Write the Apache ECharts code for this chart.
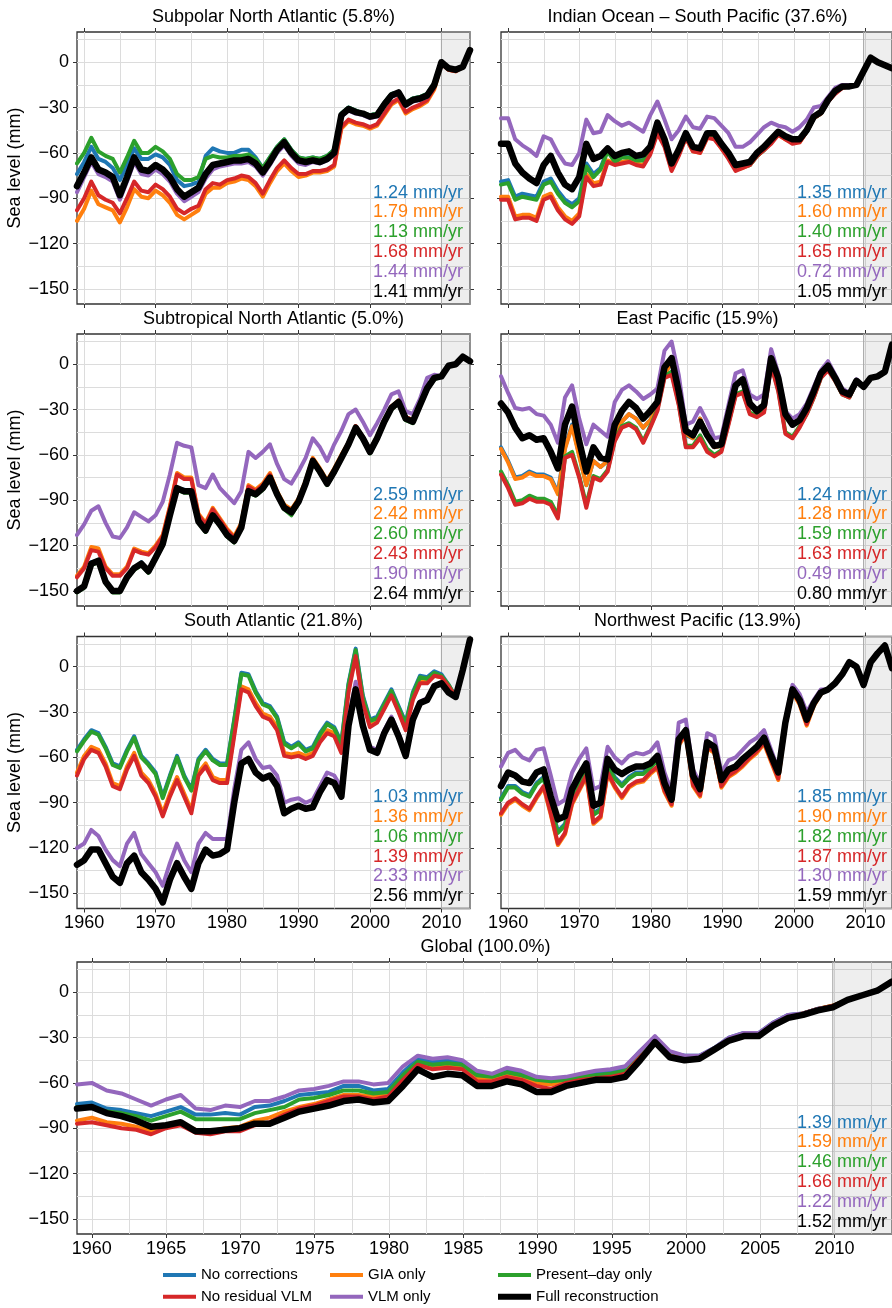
<!DOCTYPE html>
<html>
<head>
<meta charset="utf-8">
<script src="https://cdn.jsdelivr.net/npm/echarts@6/dist/echarts.min.js"></script>
<style>
  html, body { margin: 0; padding: 0; background: #fff; }
  #chart { width: 892px; height: 1308px; }
</style>
</head>
<body>
<div id="chart"></div>
<script>
// yearly samples, 1959 .. 2014
var years = [1959, 1960, 1961, 1962, 1963, 1964, 1965, 1966, 1967, 1968,
             1969, 1970, 1971, 1972, 1973, 1974, 1975, 1976, 1977, 1978,
             1979, 1980, 1981, 1982, 1983, 1984, 1985, 1986, 1987, 1988,
             1989, 1990, 1991, 1992, 1993, 1994, 1995, 1996, 1997, 1998,
             1999, 2000, 2001, 2002, 2003, 2004, 2005, 2006, 2007, 2008,
             2009, 2010, 2011, 2012, 2013, 2014];

var seriesNames = ['No corrections', 'GIA only', 'Present\u2013day only', 'No residual VLM', 'VLM only', 'Full reconstruction'];
var seriesColors = ['#1f77b4', '#ff7f0e', '#2ca02c', '#d62728', '#9467bd', '#000000'];

// Subpolar North Atlantic
var spna_noCorr = [-74,-66,-56,-64,-66,-70,-78,-68,-57,-64, -64,-61,-63,-68,-78,-82,-81,-79,-62,-57, -59,-60,-60,-58,-58,-63,-70,-63,-56,-51, -58,-63,-64,-63,-64,-62,-58,-34,-30,-32, -34,-35,-34,-27,-21,-20,-27,-24,-23,-21, -14,0,-4,-5,-3,8];
var spna_gia = [-105,-97,-85,-94,-96,-98,-106,-96,-84,-89, -90,-85,-88,-93,-101,-104,-101,-98,-87,-83, -83,-80,-79,-77,-78,-82,-89,-80,-72,-67, -72,-76,-75,-73,-73,-72,-69,-44,-39,-41, -42,-44,-42,-35,-28,-25,-34,-31,-29,-26, -18,-1,-5,-6,-3,8];
var spna_present = [-67,-60,-50,-59,-62,-64,-73,-63,-52,-60, -60,-56,-59,-64,-74,-78,-78,-76,-64,-62, -63,-63,-62,-62,-61,-64,-70,-63,-56,-51, -58,-63,-64,-63,-64,-62,-58,-34,-30,-32, -34,-35,-34,-27,-21,-20,-27,-24,-23,-21, -14,0,-4,-5,-3,8];
var spna_noResid = [-98,-90,-79,-88,-91,-93,-100,-90,-79,-85, -86,-81,-84,-89,-97,-100,-97,-95,-84,-80, -81,-78,-77,-75,-76,-80,-87,-78,-70,-65, -70,-74,-74,-72,-72,-71,-68,-43,-38,-40, -41,-43,-41,-34,-27,-24,-33,-30,-28,-25, -17,-1,-5,-6,-3,8];
var spna_vlm = [-86,-76,-66,-74,-76,-79,-91,-79,-66,-74, -75,-71,-74,-79,-87,-92,-89,-86,-77,-71, -69,-68,-67,-67,-66,-69,-75,-68,-60,-55, -62,-67,-68,-66,-67,-65,-61,-36,-32,-34, -35,-37,-36,-29,-23,-21,-29,-26,-25,-23, -15,0,-4,-5,-3,8];
var spna_full = [-82,-73,-63,-71,-73,-76,-88,-76,-63,-71, -72,-68,-71,-76,-84,-89,-86,-83,-74,-68, -67,-66,-65,-65,-64,-67,-73,-66,-58,-53, -60,-65,-66,-65,-66,-64,-60,-35,-31,-33, -34,-36,-35,-28,-22,-20,-28,-25,-24,-22, -15,0,-4,-5,-3,8];
var spna_rates = ['1.24', '1.79', '1.13', '1.68', '1.44', '1.41'];

// Indian Ocean - South Pacific
var iosp_noCorr = [-79,-78,-89,-87,-88,-89,-79,-77,-85,-91, -94,-90,-67,-74,-70,-58,-65,-62,-62,-64, -64,-58,-44,-53,-69,-60,-49,-58,-59,-49, -49,-56,-62,-70,-69,-68,-62,-58,-53,-47, -50,-52,-52,-46,-37,-34,-26,-20,-16,-16, -15,-6,3,0,-2,-4];
var iosp_gia = [-89,-89,-102,-101,-101,-103,-89,-87,-96,-102, -105,-100,-74,-80,-79,-65,-67,-66,-65,-67, -68,-60,-46,-55,-71,-61,-50,-59,-60,-50, -50,-57,-63,-71,-70,-68,-62,-58,-53,-48, -51,-53,-53,-46,-37,-34,-26,-20,-17,-16, -15,-6,3,0,-2,-4];
var iosp_present = [-81,-80,-91,-89,-90,-91,-81,-79,-87,-93, -96,-92,-69,-76,-71,-59,-66,-63,-63,-65, -65,-59,-45,-54,-70,-61,-49,-58,-59,-49, -49,-56,-62,-70,-69,-68,-62,-58,-53,-47, -50,-52,-52,-46,-37,-34,-26,-20,-16,-16, -15,-6,3,0,-2,-4];
var iosp_noResid = [-91,-91,-104,-103,-103,-105,-91,-89,-98,-104, -107,-102,-76,-82,-81,-66,-68,-67,-66,-68, -69,-61,-47,-56,-72,-62,-50,-59,-60,-50, -51,-57,-64,-72,-70,-68,-62,-58,-54,-48, -51,-54,-53,-46,-37,-34,-26,-21,-17,-16, -15,-6,3,0,-2,-4];
var iosp_vlm = [-37,-37,-51,-55,-58,-62,-49,-51,-60,-67, -68,-60,-38,-47,-46,-35,-39,-42,-40,-43, -46,-35,-26,-38,-51,-45,-36,-43,-44,-36, -37,-42,-47,-56,-56,-53,-48,-43,-40,-42, -43,-46,-43,-38,-30,-29,-23,-17,-15,-15, -15,-6,3,0,-2,-4];
var iosp_full = [-54,-54,-67,-73,-77,-80,-68,-62,-73,-81, -84,-76,-54,-64,-62,-57,-62,-60,-59,-62, -61,-56,-40,-51,-67,-58,-47,-56,-57,-47, -47,-54,-60,-68,-67,-66,-60,-56,-51,-46, -49,-51,-51,-45,-36,-33,-25,-19,-16,-16, -15,-6,3,0,-2,-4];
var iosp_rates = ['1.35', '1.60', '1.40', '1.65', '0.72', '1.05'];

// Subtropical North Atlantic
var stna_noCorr = [-150,-147,-131,-130,-143,-150,-150,-141,-135,-131, -137,-128,-119,-100,-82,-83,-84,-104,-110,-100, -106,-113,-117,-108,-84,-86,-82,-75,-86,-95, -98,-91,-79,-64,-71,-79,-71,-62,-53,-42, -49,-58,-49,-38,-29,-25,-36,-38,-27,-16, -9,-8,-1,0,5,2];
var stna_gia = [-140,-134,-121,-122,-134,-139,-139,-134,-122,-124, -125,-120,-113,-94,-72,-75,-75,-99,-105,-95, -102,-109,-114,-105,-80,-83,-79,-72,-84,-93, -96,-89,-77,-62,-69,-77,-69,-60,-52,-41, -48,-57,-48,-37,-28,-24,-35,-37,-26,-15, -9,-8,-1,0,5,2];
var stna_present = [-151,-148,-133,-131,-145,-151,-151,-142,-136,-133, -138,-129,-120,-101,-83,-85,-85,-105,-111,-101, -107,-114,-118,-109,-85,-87,-83,-76,-87,-96, -100,-92,-80,-65,-72,-80,-72,-63,-54,-43, -50,-59,-50,-39,-30,-26,-37,-39,-28,-17, -10,-8,-1,0,5,2];
var stna_noResid = [-141,-135,-123,-124,-135,-140,-140,-135,-123,-125, -126,-121,-114,-95,-73,-76,-76,-100,-106,-96, -103,-110,-115,-106,-81,-84,-80,-73,-85,-94, -97,-90,-78,-63,-70,-78,-70,-61,-52,-41, -48,-57,-48,-37,-28,-25,-35,-37,-26,-15, -9,-8,-1,0,5,2];
var stna_vlm = [-113,-106,-97,-94,-105,-114,-115,-108,-98,-101, -104,-100,-91,-73,-52,-54,-55,-80,-82,-73, -82,-87,-92,-84,-58,-62,-58,-53,-66,-76, -79,-71,-62,-49,-55,-64,-53,-44,-33,-30, -38,-47,-39,-30,-20,-18,-31,-33,-23,-9, -7,-8,-1,0,5,2];
var stna_full = [-150,-147,-132,-130,-144,-150,-150,-141,-135,-132, -137,-128,-119,-100,-82,-84,-84,-104,-110,-100, -106,-113,-117,-108,-84,-86,-82,-75,-86,-95, -98,-91,-79,-64,-71,-79,-71,-62,-53,-42, -49,-58,-49,-38,-29,-25,-36,-38,-27,-16, -9,-8,-1,0,5,2];
var stna_rates = ['2.59', '2.42', '2.60', '2.43', '1.90', '2.64'];

// East Pacific
var ep_noCorr = [-55,-64,-75,-74,-71,-73,-73,-75,-85,-55, -40,-60,-80,-64,-68,-64,-47,-38,-33,-36, -42,-37,-29,-7,2,-20,-47,-49,-36,-47, -55,-54,-34,-14,-10,-26,-31,-27,4,-9, -33,-40,-37,-29,-18,-6,-1,-9,-18,-20, -11,-15,-9,-8,-5,13];
var ep_gia = [-56,-65,-76,-75,-72,-74,-74,-76,-86,-56, -41,-61,-80,-64,-68,-64,-47,-38,-33,-36, -42,-37,-29,-7,2,-20,-46,-49,-36,-47, -55,-54,-34,-14,-10,-26,-31,-27,4,-9, -33,-40,-37,-29,-18,-6,-1,-9,-18,-20, -11,-15,-9,-8,-5,13];
var ep_present = [-71,-80,-91,-90,-87,-89,-89,-91,-100,-61, -58,-74,-93,-74,-76,-70,-50,-41,-39,-42, -51,-41,-30,-8,-5,-26,-54,-54,-47,-56, -60,-57,-39,-20,-18,-32,-34,-31,0,-17, -45,-48,-41,-33,-22,-9,-3,-11,-20,-22, -12,-15,-9,-8,-5,13];
var ep_noResid = [-73,-82,-93,-92,-89,-91,-91,-93,-102,-62, -60,-75,-95,-75,-77,-71,-51,-42,-40,-43, -52,-42,-31,-9,-7,-27,-55,-55,-49,-58, -61,-58,-40,-21,-19,-33,-35,-32,-1,-18, -46,-49,-42,-33,-22,-9,-4,-11,-20,-22, -12,-15,-9,-8,-5,13];
var ep_vlm = [-8,-19,-29,-30,-29,-33,-34,-40,-52,-22, -14,-36,-53,-40,-44,-48,-25,-17,-14,-18, -23,-20,-16,9,15,-7,-40,-38,-29,-38, -49,-48,-27,-6,-4,-20,-23,-20,10,-6, -31,-36,-33,-26,-15,-4,2,-7,-16,-19, -10,-15,-9,-8,-5,13];
var ep_full = [-26,-32,-42,-49,-47,-50,-49,-58,-69,-40, -28,-51,-71,-55,-62,-63,-40,-31,-25,-29, -36,-31,-25,-2,4,-18,-44,-47,-38,-47, -54,-53,-33,-14,-10,-26,-31,-27,4,-9, -33,-40,-37,-29,-18,-6,-1,-9,-18,-20, -11,-15,-9,-8,-5,13];
var ep_rates = ['1.24', '1.28', '1.59', '1.63', '0.49', '0.80'];

// South Atlantic
var sa_noCorr = [-55,-48,-42,-44,-53,-64,-66,-55,-46,-59, -64,-70,-86,-72,-59,-72,-81,-61,-55,-61, -64,-64,-35,-4,-5,-16,-24,-26,-33,-50, -53,-50,-55,-53,-44,-37,-40,-50,-11,12, -19,-35,-33,-24,-15,-26,-37,-17,-6,-7, -3,-5,-12,-20,-2,18];
var sa_gia = [-70,-59,-53,-55,-64,-77,-79,-66,-57,-70, -75,-84,-97,-84,-73,-84,-95,-70,-64,-73, -75,-75,-44,-13,-15,-24,-31,-33,-40,-57, -58,-57,-59,-57,-48,-42,-44,-55,-15,8, -23,-39,-36,-27,-18,-29,-41,-21,-10,-10, -6,-7,-13,-20,-2,18];
var sa_present = [-56,-49,-43,-45,-54,-65,-67,-56,-47,-60, -65,-71,-87,-73,-60,-73,-82,-62,-56,-62, -65,-65,-36,-5,-6,-17,-25,-27,-34,-51, -54,-51,-56,-54,-45,-38,-41,-51,-12,11, -20,-36,-34,-25,-16,-27,-38,-18,-7,-8, -4,-6,-12,-20,-2,18];
var sa_noResid = [-72,-61,-55,-57,-66,-79,-81,-68,-59,-72, -77,-86,-99,-86,-75,-86,-97,-72,-66,-75, -77,-77,-46,-15,-17,-26,-33,-35,-42,-59, -60,-59,-61,-59,-50,-44,-46,-57,-17,7, -24,-40,-37,-28,-19,-30,-42,-22,-11,-11, -6,-7,-13,-20,-2,18];
var sa_vlm = [-120,-117,-108,-112,-121,-128,-132,-117,-110,-124, -130,-136,-145,-130,-117,-128,-136,-117,-110,-114, -114,-114,-81,-55,-50,-61,-67,-66,-72,-90, -88,-87,-90,-88,-79,-70,-72,-80,-35,-10, -37,-53,-55,-42,-33,-44,-57,-33,-23,-21, -12,-11,-17,-20,-2,18];
var sa_full = [-131,-128,-121,-121,-130,-139,-143,-130,-125,-136, -141,-147,-156,-141,-130,-139,-147,-130,-121,-125, -124,-121,-90,-64,-61,-70,-74,-72,-79,-97, -94,-92,-94,-93,-83,-75,-77,-86,-39,-15, -39,-55,-57,-44,-35,-46,-59,-35,-24,-22, -13,-11,-17,-20,-2,18];
var sa_rates = ['1.03', '1.36', '1.06', '1.39', '2.33', '2.56'];

// Northwest Pacific
var nwp_noCorr = [-87,-79,-79,-83,-85,-77,-73,-91,-109,-104, -85,-76,-67,-97,-94,-65,-73,-78,-73,-70, -70,-66,-61,-79,-89,-49,-43,-74,-82,-51, -54,-76,-69,-67,-62,-58,-54,-48,-60,-71, -37,-15,-22,-35,-24,-17,-15,-11,-5,3, 0,-12,3,9,14,-1];
var nwp_gia = [-98,-91,-88,-92,-95,-87,-80,-98,-118,-111, -91,-82,-73,-104,-100,-71,-80,-87,-80,-77, -76,-71,-67,-83,-92,-52,-45,-79,-86,-54, -57,-80,-73,-70,-66,-61,-57,-51,-63,-75, -39,-17,-25,-39,-26,-18,-15,-11,-5,3, 0,-12,3,9,14,-1];
var nwp_present = [-88,-80,-80,-84,-86,-78,-74,-92,-110,-105, -86,-77,-68,-98,-95,-66,-74,-79,-74,-71, -71,-67,-62,-80,-90,-50,-43,-75,-83,-52, -55,-77,-70,-67,-63,-58,-55,-48,-60,-72, -37,-15,-23,-36,-24,-17,-15,-11,-5,3, 0,-12,3,9,14,-1];
var nwp_noResid = [-97,-90,-87,-91,-94,-86,-79,-97,-117,-110, -90,-81,-72,-103,-99,-70,-79,-86,-79,-76, -75,-70,-66,-82,-91,-51,-44,-78,-85,-53, -56,-79,-72,-69,-65,-60,-56,-50,-62,-74, -38,-16,-24,-38,-25,-17,-15,-11,-5,3, 0,-12,3,9,14,-1];
var nwp_vlm = [-66,-57,-55,-60,-62,-55,-54,-72,-91,-88, -70,-61,-54,-81,-79,-53,-60,-64,-59,-57, -58,-56,-50,-70,-83,-37,-35,-68,-77,-44, -46,-70,-62,-60,-55,-50,-47,-42,-55,-68, -35,-12,-18,-30,-22,-15,-15,-11,-5,3, 0,-12,3,9,14,-1];
var nwp_full = [-79,-70,-72,-76,-77,-70,-68,-86,-101,-99, -81,-72,-64,-92,-90,-61,-68,-71,-68,-66, -66,-64,-59,-77,-88,-48,-42,-72,-81,-50, -53,-75,-68,-66,-61,-57,-53,-47,-59,-70, -37,-15,-22,-35,-24,-17,-15,-11,-5,3, 0,-12,3,9,14,-1];
var nwp_rates = ['1.85', '1.90', '1.82', '1.87', '1.30', '1.59'];

// Global
var glob_noCorr = [-74,-73,-77,-78,-80,-82,-79,-76,-81,-81, -80,-81,-76,-75,-72,-68,-67,-66,-62,-62, -65,-64,-53,-44,-46,-45,-46,-53,-55,-51, -53,-57,-58,-57,-55,-53,-52,-50,-39,-30, -40,-42,-42,-37,-30,-27,-27,-20,-15,-14, -11,-10,-5,-2,1,7];
var glob_gia = [-85,-83,-86,-87,-89,-92,-88,-86,-91,-92, -90,-89,-85,-83,-79,-76,-74,-71,-68,-68, -69,-68,-57,-47,-49,-48,-49,-57,-57,-54, -56,-60,-61,-59,-57,-56,-55,-53,-42,-32, -42,-44,-43,-38,-31,-28,-28,-21,-16,-14, -11,-9,-5,-2,1,7];
var glob_present = [-76,-76,-79,-80,-82,-85,-82,-79,-84,-84, -84,-84,-80,-78,-76,-71,-70,-68,-65,-65, -67,-66,-55,-46,-48,-47,-48,-55,-56,-53, -55,-58,-59,-58,-56,-55,-54,-52,-41,-31, -41,-43,-43,-38,-31,-28,-28,-21,-16,-14, -11,-9,-5,-2,1,7];
var glob_noResid = [-87,-86,-88,-90,-91,-94,-90,-88,-93,-94, -92,-92,-88,-86,-81,-77,-75,-72,-69,-69, -71,-69,-58,-48,-51,-50,-51,-59,-59,-56, -58,-62,-64,-60,-58,-57,-56,-54,-43,-33, -42,-44,-44,-38,-31,-28,-28,-21,-16,-14, -11,-9,-5,-2,1,7];
var glob_vlm = [-61,-60,-65,-67,-71,-75,-71,-68,-77,-78, -75,-76,-72,-72,-69,-65,-64,-62,-59,-59, -61,-60,-49,-42,-44,-43,-45,-52,-54,-50, -52,-56,-57,-56,-54,-52,-51,-49,-39,-29, -39,-42,-42,-37,-30,-27,-27,-20,-15,-14, -11,-10,-5,-2,1,7];
var glob_full = [-77,-76,-80,-82,-85,-89,-88,-86,-92,-92, -91,-90,-87,-87,-83,-79,-77,-75,-72,-71, -73,-72,-62,-51,-56,-54,-55,-62,-62,-59, -61,-66,-66,-62,-60,-58,-58,-56,-45,-33, -43,-45,-44,-38,-32,-29,-29,-22,-17,-15, -12,-10,-5,-2,1,7];
var glob_rates = ['1.39', '1.59', '1.46', '1.66', '1.22', '1.52'];

var FONT = '"Liberation Sans", Arial, Helvetica, sans-serif';
var X_MIN = 1959, X_MAX = 2014, Y_MIN = -160, Y_MAX = 20;

var panels = [
    { title: 'Subpolar North Atlantic (5.8%)', box: [77, 32, 393, 272], major: 10, minor: 5, xLab: false, yLab: true,
      lines: [spna_noCorr, spna_gia, spna_present, spna_noResid, spna_vlm, spna_full], rates: spna_rates },
    { title: 'Indian Ocean \u2013 South Pacific (37.6%)', box: [501, 32, 393, 272], major: 10, minor: 5, xLab: false, yLab: false,
      lines: [iosp_noCorr, iosp_gia, iosp_present, iosp_noResid, iosp_vlm, iosp_full], rates: iosp_rates },
    { title: 'Subtropical North Atlantic (5.0%)', box: [77, 334, 393, 272], major: 10, minor: 5, xLab: false, yLab: true,
      lines: [stna_noCorr, stna_gia, stna_present, stna_noResid, stna_vlm, stna_full], rates: stna_rates },
    { title: 'East Pacific (15.9%)', box: [501, 334, 393, 272], major: 10, minor: 5, xLab: false, yLab: false,
      lines: [ep_noCorr, ep_gia, ep_present, ep_noResid, ep_vlm, ep_full], rates: ep_rates },
    { title: 'South Atlantic (21.8%)', box: [77, 636.5, 393, 272], major: 10, minor: 5, xLab: true, yLab: true,
      lines: [sa_noCorr, sa_gia, sa_present, sa_noResid, sa_vlm, sa_full], rates: sa_rates },
    { title: 'Northwest Pacific (13.9%)', box: [501, 636.5, 393, 272], major: 10, minor: 5, xLab: true, yLab: false,
      lines: [nwp_noCorr, nwp_gia, nwp_present, nwp_noResid, nwp_vlm, nwp_full], rates: nwp_rates },
    { title: 'Global (100.0%)', box: [77, 962, 817, 272], major: 5, minor: 2.5, xLab: true, yLab: true, noName: true,
      lines: [glob_noCorr, glob_gia, glob_present, glob_noResid, glob_vlm, glob_full], rates: glob_rates }
];

var grid = [], xAxis = [], yAxis = [], series = [], graphic = [], legend = [];

function minusLabel(v) {
    return v < 0 ? '\u2212' + Math.abs(v) : String(v);
}

function hiddenAxis(extra) {
    return Object.assign({
        type: 'value',
        axisLine: { show: false, onZero: false }, axisTick: { show: false },
        axisLabel: { show: false }, splitLine: { show: false }
    }, extra);
}

function gridLineAxis(extra) {
    return Object.assign({
        type: 'value',
        axisLine: { show: false, onZero: false }, axisTick: { show: false }, axisLabel: { show: false },
        splitLine: { show: true, lineStyle: { color: '#dcdcdc', width: 1 } }
    }, extra);
}

function tickAxis(extra, showLabel, margin, fmt) {
    return Object.assign({
        type: 'value',
        axisLine: { show: false, onZero: false },
        axisTick: { show: true, inside: false, length: 4, lineStyle: { color: '#333', width: 1 } },
        axisLabel: { show: showLabel, margin: margin, fontSize: 18, color: '#000', fontFamily: FONT, formatter: fmt },
        splitLine: { show: false }
    }, extra);
}

panels.forEach(function (p) {
    var L = p.box[0], T = p.box[1], W = p.box[2], H = p.box[3];
    var kx = W / (X_MAX - X_MIN), ky = H / (Y_MAX - Y_MIN);

    // main plotting area with frame
    grid.push({ left: L, top: T, width: W, height: H, show: true, borderColor: '#333', borderWidth: 1.3, backgroundColor: 'rgba(0,0,0,0)' });
    var gMain = grid.length - 1;
    xAxis.push(hiddenAxis({ gridIndex: gMain, min: X_MIN, max: X_MAX }));
    var xMain = xAxis.length - 1;
    yAxis.push(hiddenAxis({ gridIndex: gMain, min: Y_MIN, max: Y_MAX }));
    var yMain = yAxis.length - 1;

    // vertical grid lines, full height
    var gxMax = p.minor === 2.5 ? 2012.5 : 2010;
    grid.push({ left: L + (1960 - X_MIN) * kx, top: T, width: (gxMax - 1960) * kx, height: H });
    var gV = grid.length - 1;
    xAxis.push(gridLineAxis({ gridIndex: gV, min: 1960, max: gxMax, interval: p.minor }));
    yAxis.push(hiddenAxis({ gridIndex: gV, min: Y_MIN, max: Y_MAX }));

    // horizontal grid lines, full width
    grid.push({ left: L, top: T + (Y_MAX - 15) * ky, width: W, height: 165 * ky });
    var gH = grid.length - 1;
    xAxis.push(hiddenAxis({ gridIndex: gH, min: X_MIN, max: X_MAX }));
    yAxis.push(gridLineAxis({ gridIndex: gH, min: -150, max: 15, interval: 15 }));

    // tick marks and labels on all four sides
    grid.push({ left: L + (1960 - X_MIN) * kx, top: T + (Y_MAX - 0) * ky, width: 50 * kx, height: 150 * ky });
    var gT = grid.length - 1;
    xAxis.push(tickAxis({ gridIndex: gT, min: 1960, max: 2010, interval: p.major, position: 'bottom', offset: 10 * ky }, p.xLab, 6, function (v) { return String(v); }));
    xAxis.push(tickAxis({ gridIndex: gT, min: 1960, max: 2010, interval: p.major, position: 'top', offset: 20 * ky }, false, 6));
    yAxis.push(tickAxis({ gridIndex: gT, min: -150, max: 0, interval: 30, position: 'left', offset: (1960 - X_MIN) * kx }, p.yLab, 8, minusLabel));
    yAxis.push(tickAxis({ gridIndex: gT, min: -150, max: 0, interval: 30, position: 'right', offset: (X_MAX - 2010) * kx }, false, 8));

    // shaded period (translucent so the grid shows through)
    series.push({ type: 'line', xAxisIndex: xMain, yAxisIndex: yMain, data: [], z: -1, silent: true,
        markArea: { silent: true, itemStyle: { color: 'rgba(0,0,0,0.065)', borderColor: '#a8a8a8', borderWidth: 1 },
            data: [[{ xAxis: 2010 }, { xAxis: 2014 }]] } });

    p.lines.forEach(function (vals, k) {
        series.push({
            name: seriesNames[k], type: 'line', xAxisIndex: xMain, yAxisIndex: yMain,
            data: years.map(function (yr, j) { return [yr, vals[j]]; }),
            showSymbol: false, symbol: 'none', silent: true, clip: true,
            lineStyle: { color: seriesColors[k], width: k === 5 ? 6.5 : 4, join: 'round', cap: 'round' },
            itemStyle: { color: seriesColors[k] }
        });
    });

    // panel title
    graphic.push({ type: 'text', x: L + W / 2, y: T - 15, silent: true, z: 100,
        style: { text: p.title, font: '18px ' + FONT, fill: '#000', align: 'center', verticalAlign: 'middle' } });
    // y axis name
    if (p.yLab && !p.noName) {
        graphic.push({ type: 'text', x: 15, y: T + H / 2, rotation: Math.PI / 2, silent: true, z: 100,
            style: { text: 'Sea level (mm)', font: '18px ' + FONT, fill: '#000', align: 'center', verticalAlign: 'middle' } });
    }
    // trend labels
    p.rates.forEach(function (r, k) {
        graphic.push({ type: 'text', x: L + W - 7, y: T + H - 12.3 - 19.8 * (5 - k), silent: true, z: 100,
            style: { text: r + ' mm/yr', font: '18px ' + FONT, fill: seriesColors[k], align: 'right', verticalAlign: 'middle' } });
    });
});

// legend: three columns, two rows
var legendCols = [163, 330, 498];
var legendRows = [1275, 1296.7];
var legendSlots = [[0, 0], [1, 0], [2, 0], [0, 1], [1, 1], [2, 1]];
seriesNames.forEach(function (nm, k) {
    var slot = legendSlots[k];
    legend.push({
        data: [nm], left: legendCols[slot[0]], top: legendRows[slot[1]] - 9, padding: 0,
        icon: 'rect', itemWidth: 33, itemHeight: k === 5 ? 6 : 4, selectedMode: false,
        textStyle: { fontSize: 15, color: '#000', fontFamily: FONT, lineHeight: 18 }
    });
});

var chart = echarts.init(document.getElementById('chart'), null, { renderer: 'canvas' });
var option = {
    animation: false,
    backgroundColor: '#fff',
    textStyle: { fontFamily: FONT },
    grid: grid,
    xAxis: xAxis,
    yAxis: yAxis,
    legend: legend,
    graphic: { elements: graphic },
    series: series
};
chart.setOption(option);
</script>
</body>
</html>
